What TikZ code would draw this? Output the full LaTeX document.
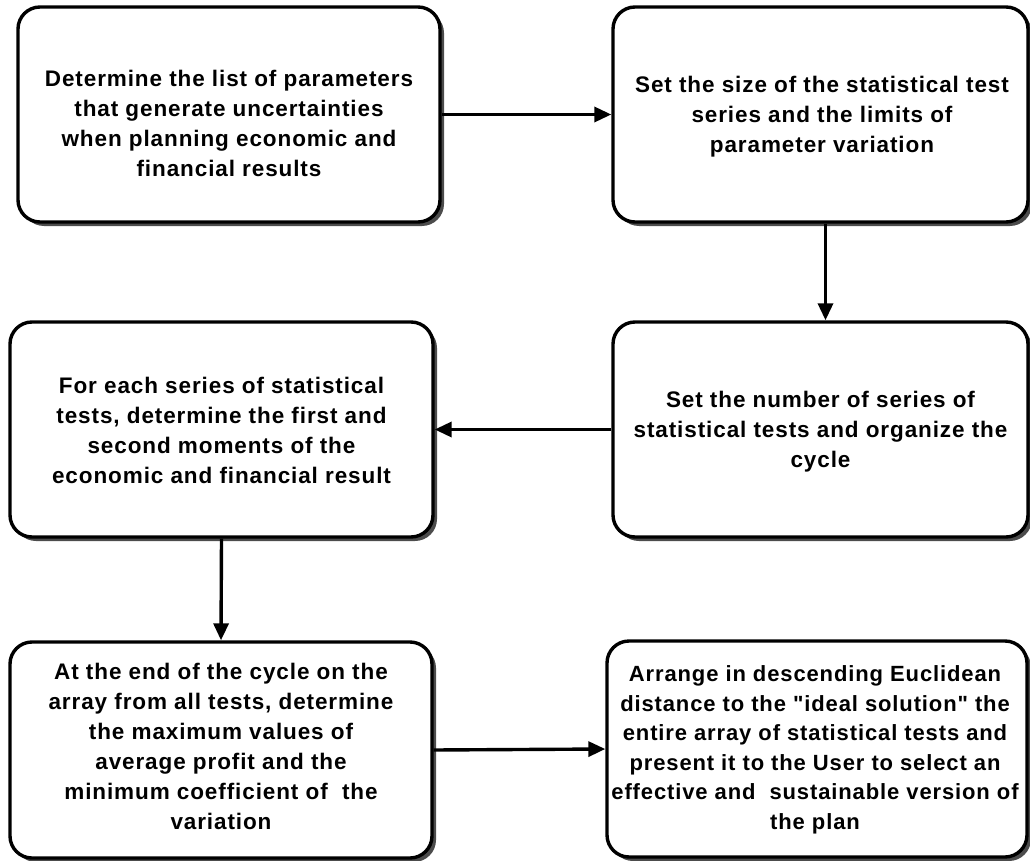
\documentclass[tikz,border=0pt]{standalone}
\usepackage{fontspec}
\setmainfont{Liberation Sans}[LetterSpace=4,Ligatures=TeXOff]
\usetikzlibrary{arrows.meta,shadows}
\begin{document}
\begin{tikzpicture}[x=1pt,y=-1pt,
  box/.style={draw=black, line width=3.4pt, rounded corners=22pt, fill=white, inner sep=0pt,
    drop shadow={shadow xshift=4pt, shadow yshift=-4pt, fill=black!70, opacity=1}},
  txt/.style={align=center, font=\fontsize{22.5}{30}\selectfont\bfseries, inner sep=0pt},
  conn/.style={line width=3.4pt, -{Triangle[length=17pt,width=15pt]}}]
\useasboundingbox (0,0) rectangle (1030,861);
\node[box, minimum width=422pt, minimum height=215pt] (b1) at (229,114.5) {};
\node[txt] (t1) at (229,123)
  {Determine the list of parameters\\that generate uncertainties\\when planning economic and\\financial results};
\node[box, minimum width=415pt, minimum height=215pt] (b2) at (820.5,114.5) {};
\node[txt] (t2) at (822,117)
  {Set the size of the statistical test\\series and the limits of\\parameter variation};
\node[box, minimum width=415pt, minimum height=215pt] (b3) at (820.5,429.5) {};
\node[txt] (t3) at (820.5,432)
  {Set the number of series of\\statistical tests and organize the\\cycle};
\node[box, minimum width=423pt, minimum height=215pt] (b4) at (221.5,429.5) {};
\node[txt] (t4) at (221.5,430)
  {For each series of statistical\\tests, determine the first and\\second moments of the\\economic and financial result};
\node[box, minimum width=422pt, minimum height=216pt] (b5) at (221,750) {};
\node[txt] (t5) at (221,746)
  {At the end of the cycle on the\\array from all tests, determine\\the maximum values of\\average profit and the\\minimum coefficient of\ \ the\\variation};
\node[box, minimum width=420pt, minimum height=216pt] (b6) at (817,749) {};
\node[txt, font=\fontsize{22}{29.5}\selectfont\bfseries] (t6) at (815,750)
  {Arrange in descending Euclidean\\distance to the "ideal solution" the\\entire array of statistical tests and\\present it to the User to select an\\effective and\ \ sustainable version of\\the plan};
\draw[conn] (b1.east) -- (b2.west);
\draw[conn] ([xshift=5pt]b2.south) -- ([xshift=5pt]b3.north);
\draw[conn] (b3.west) -- (b4.east);
\draw[conn] (b4.south) -- (b5.north);
\draw[conn] (b5.east) -- (b6.west);
\end{tikzpicture}
\end{document}
